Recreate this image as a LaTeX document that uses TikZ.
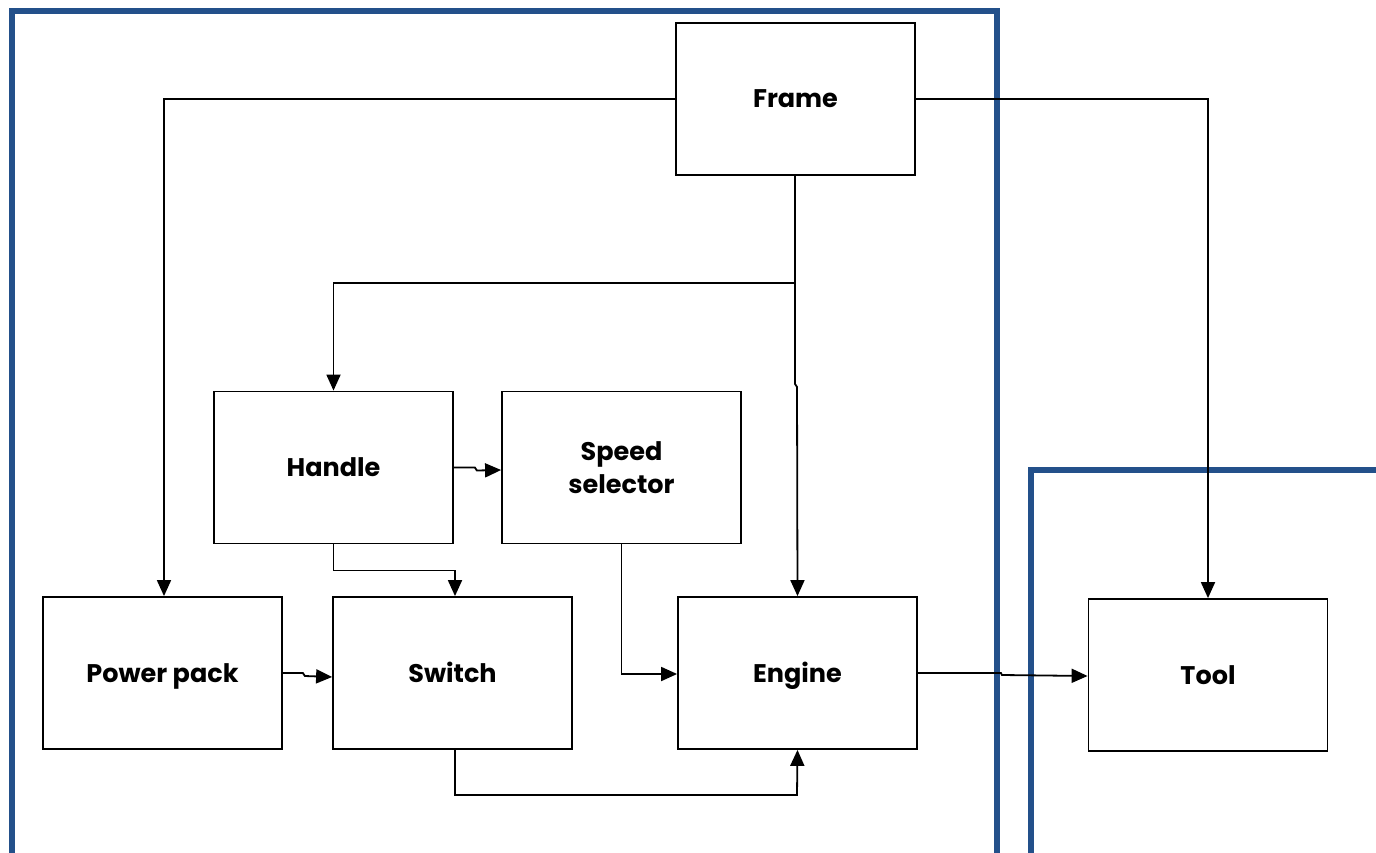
\documentclass[tikz,border=0pt]{standalone}
\usepackage{fontspec}
\setmainfont{Poppins}[UprightFont=* Bold, BoldFont=* Bold]
\usetikzlibrary{arrows.meta}
\definecolor{zoneblue}{RGB}{35,80,138}
% single-line label with its capitals centred in the box
\newcommand{\lbl}[1]{\raisebox{-9pt}[0pt][0pt]{#1}}
\begin{document}
\begin{tikzpicture}[x=1pt,y=-1pt,
  block/.style={draw=black,line width=1.8pt,minimum width=239pt,minimum height=152pt,
    font=\fontsize{25.5}{34}\selectfont,align=center,inner sep=0pt,fill=white},
  link/.style={draw=black,line width=1.8pt,-{Triangle[length=16pt,width=14pt]}},
  plain/.style={draw=black,line width=1.8pt},
  zone/.style={draw=zoneblue,line width=5.5pt}]
\useasboundingbox (0,0) rectangle (1376,853);
% system boundaries
\draw[zone] (12,870) -- (12,11) -- (997,11) -- (997,870);
\draw[zone] (1031,870) -- (1031,470) -- (1390,470);
% components
\node[block] (frame) at (795.5,99) {\lbl{Frame}};
\node[block] (handle) at (333.5,467.5) {\lbl{Handle}};
\node[block] (speed) at (621.5,467.5) {\raisebox{-1pt}{Speed}\\selector};
\node[block] (power) at (162.5,673) {\lbl{Power pack}};
\node[block] (switch) at (452.5,673) {\lbl{Switch}};
\node[block] (engine) at (797.5,673) {\lbl{Engine}};
\node[block] (tool) at (1208,675) {\lbl{Tool}};
% routing points
\coordinate (hub) at (795,283);
\coordinate (kink) at (795,384);
% frame connections
\draw[link] (frame.west) -| (power.north -| 164,0);
\draw[link] (frame.east) -| (tool.north);
\draw[plain] (frame.south -| hub) -- (hub);
\draw[link] (hub) -| (handle.north);
\draw[link] (hub) -- (kink) -- ++(2,3) -- (engine.north);
% handle connections
\draw[link] (handle.east) -- ++(21,0) -- ++(2,3) -- (speed.west |- 0,470);
\draw[link] (handle.south) -- ++(0,26) -| (switch.north -| 455,0);
% speed selector to engine
\draw[link] (speed.south) |- (engine.west |- 0,674);
% power pack to switch
\draw[link] (power.east) -- ++(20,0) -- ++(2,3) -- (switch.west |- 0,677);
% switch to engine
\draw[link] (switch.south -| 455,0) |- (797,795) -- (engine.south);
% engine to tool
\draw[link] (engine.east) -- ++(83,0) -- ++(1,2) -- (tool.west |- 0,676);
\end{tikzpicture}
\end{document}
